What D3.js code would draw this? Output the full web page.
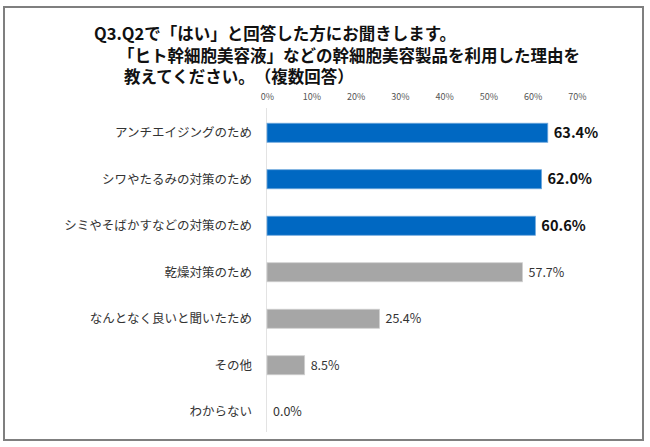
<!DOCTYPE html>
<html>
<head>
<meta charset="utf-8">
<script src="https://cdn.jsdelivr.net/npm/d3@7/dist/d3.min.js"></script>
<style>
  html, body { margin: 0; padding: 0; background: #fff; }
  svg { display: block; }
  text { font-family: "Noto Sans CJK JP", "Noto Sans", sans-serif; text-spacing-trim: space-all; }
</style>
</head>
<body>
<svg id="chart" width="650" height="447"></svg>
<script>
const titleLines = [
  "Q3.Q2で「はい」と回答した方にお聞きします。",
  "「ヒト幹細胞美容液」などの幹細胞美容製品を利用した理由を",
  "教えてください。（複数回答）"
];
const categories = [
  "アンチエイジングのため",
  "シワやたるみの対策のため",
  "シミやそばかすなどの対策のため",
  "乾燥対策のため",
  "なんとなく良いと聞いたため",
  "その他",
  "わからない"
];
const values = [63.4, 62.0, 60.6, 57.7, 25.4, 8.5, 0.0];
const highlighted = [true, true, true, false, false, false, false];
const ticks = [0, 10, 20, 30, 40, 50, 60, 70];

const svg = d3.select("#chart");

// frame
svg.append("rect")
  .attr("x", 4).attr("y", 7).attr("width", 639).attr("height", 433)
  .attr("fill", "none").attr("stroke", "#7f7f7f").attr("stroke-width", 2);

// title
const titleX = [94, 118, 124];
const titleY = [40, 62, 83];
svg.append("g").selectAll("text").data(titleLines).join("text")
  .attr("x", (d, i) => titleX[i])
  .attr("y", (d, i) => titleY[i])
  .attr("font-size", 16.5)
  .attr("font-weight", "bold")
  .attr("fill", "#111")
  .text(d => d);

const x = d3.scaleLinear().domain([0, 70]).range([267, 577]);
const y = d3.scaleBand().domain(categories).range([109.5, 435]).paddingInner(0.59).paddingOuter(0.295);

// zero line
svg.append("line")
  .attr("x1", x(0) - 0.5).attr("x2", x(0) - 0.5)
  .attr("y1", 108).attr("y2", 432)
  .attr("stroke", "#e3e3e3").attr("stroke-width", 1);

// top axis
const axis = d3.axisTop(x).tickValues(ticks).tickFormat(d => d + "%").tickSize(0).tickPadding(0);
const ag = svg.append("g").attr("transform", "translate(0,100)").call(axis);
ag.select(".domain").remove();
ag.selectAll("text")
  .attr("font-size", 9)
  .attr("fill", "#555")
  .attr("font-family", "'DejaVu Sans', sans-serif")
  .attr("dy", 0);

// category labels
svg.append("g").selectAll("text").data(categories).join("text")
  .attr("x", 252)
  .attr("y", d => y(d) + y.bandwidth() / 2)
  .attr("dy", "0.36em")
  .attr("text-anchor", "end")
  .attr("font-size", 12.5)
  .attr("fill", "#333")
  .text(d => d);

// bars
svg.append("g").selectAll("rect").data(values).join("rect")
  .attr("x", x(0))
  .attr("y", (d, i) => y(categories[i]))
  .attr("width", d => x(d) - x(0))
  .attr("height", y.bandwidth())
  .attr("fill", (d, i) => highlighted[i] ? "#0068c2" : "#a6a6a6")
  .attr("stroke", (d, i) => highlighted[i] ? "#6fa8dc" : "#d0d0d0")
  .attr("stroke-width", 0.8);

// value labels
svg.append("g").selectAll("text").data(values).join("text")
  .attr("x", d => x(d) + 6)
  .attr("y", (d, i) => y(categories[i]) + y.bandwidth() / 2)
  .attr("dy", "0.36em")
  .attr("font-size", (d, i) => highlighted[i] ? 14.5 : 12.5)
  .attr("font-weight", (d, i) => highlighted[i] ? "bold" : "normal")
  .attr("fill", (d, i) => highlighted[i] ? "#111" : "#333")
  .attr("font-family", "'DejaVu Sans', sans-serif")
  .text(d => d.toFixed(1) + "%");
</script>
</body>
</html>
